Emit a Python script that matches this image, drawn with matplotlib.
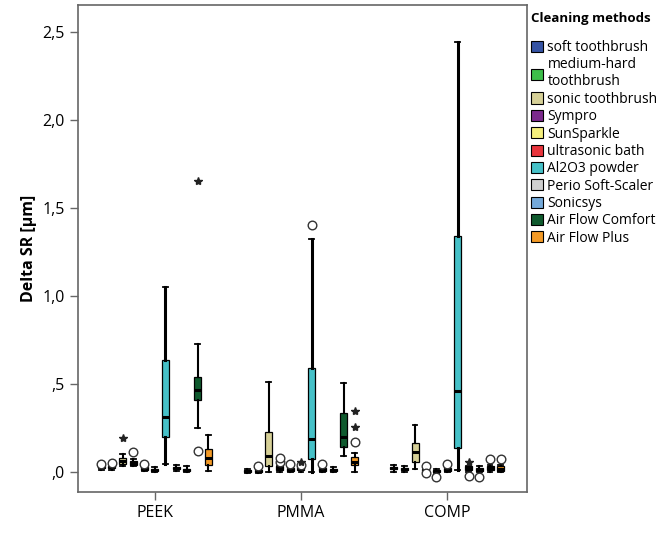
import matplotlib
matplotlib.use("Agg")
import matplotlib.pyplot as plt
from matplotlib.patches import Patch

plt.rcParams["font.family"] = ["Open Sans", "DejaVu Sans"]

materials = ["PEEK", "PMMA", "COMP"]
methods = ["soft toothbrush", "medium-hard\ntoothbrush", "sonic toothbrush", "Sympro",
           "SunSparkle", "ultrasonic bath", "Al2O3 powder", "Perio Soft-Scaler",
           "Sonicsys", "Air Flow Comfort", "Air Flow Plus"]
colors = ["#3553a4", "#3dbe4a", "#d6d097", "#7b2a8c", "#f5ef7c", "#e8343c",
          "#46c1c8", "#d0d0d0", "#74a9d9", "#0f5a2e", "#f39a26"]

# box statistics, one row per material, one value per cleaning method
whislo = [[0.010, 0.010, 0.030, 0.030, 0.005, 0.000, 0.045, 0.005, 0.000, 0.250, 0.005],
          [-0.005, -0.005, 0.000, 0.000, 0.000, 0.000, 0.000, 0.000, 0.000, 0.087, 0.000],
          [0.000, 0.000, 0.017, 0.000, -0.005, 0.000, 0.010, 0.000, 0.000, 0.000, 0.000]]
q1 = [[0.020, 0.020, 0.045, 0.040, 0.010, 0.005, 0.195, 0.015, 0.005, 0.410, 0.040],
      [0.000, 0.000, 0.030, 0.010, 0.005, 0.010, 0.070, 0.005, 0.005, 0.140, 0.040],
      [0.015, 0.010, 0.057, 0.005, 0.000, 0.005, 0.135, 0.010, 0.005, 0.010, 0.005]]
med = [[0.025, 0.030, 0.060, 0.050, 0.015, 0.010, 0.310, 0.020, 0.010, 0.466, 0.080],
       [0.003, 0.005, 0.087, 0.020, 0.010, 0.020, 0.187, 0.010, 0.010, 0.200, 0.055],
       [0.020, 0.015, 0.113, 0.010, 0.005, 0.010, 0.460, 0.020, 0.010, 0.020, 0.015]]
q3 = [[0.035, 0.035, 0.080, 0.060, 0.025, 0.015, 0.636, 0.025, 0.015, 0.540, 0.130],
      [0.008, 0.012, 0.225, 0.030, 0.020, 0.030, 0.590, 0.020, 0.015, 0.335, 0.085],
      [0.025, 0.020, 0.165, 0.015, 0.010, 0.020, 1.340, 0.030, 0.020, 0.035, 0.030]]
whishi = [[0.040, 0.050, 0.100, 0.075, 0.030, 0.025, 1.050, 0.040, 0.030, 0.727, 0.210],
          [0.015, 0.020, 0.510, 0.035, 0.025, 0.035, 1.320, 0.025, 0.025, 0.505, 0.105],
          [0.040, 0.035, 0.267, 0.020, 0.015, 0.025, 2.440, 0.035, 0.030, 0.040, 0.040]]

# outliers: (material index, method index, value)
circles = [(0, 0, 0.045), (0, 1, 0.048), (0, 3, 0.115), (0, 4, 0.045), (0, 9, 0.120),
           (1, 1, 0.030), (1, 3, 0.055), (1, 3, 0.078), (1, 4, 0.045), (1, 5, 0.040),
           (1, 6, 1.400), (1, 7, 0.045), (1, 10, 0.170),
           (2, 3, 0.035), (2, 3, -0.008), (2, 4, -0.030), (2, 5, 0.045), (2, 7, -0.025),
           (2, 8, -0.030), (2, 9, 0.075), (2, 10, 0.075)]
stars = [(0, 2, 0.190), (0, 9, 1.650), (1, 5, 0.058), (1, 10, 0.255), (1, 10, 0.345),
         (2, 7, 0.058)]

yticks = [0.0, 0.5, 1.0, 1.5, 2.0, 2.5]
ytick_labels = [",0", ",5", "1,0", "1,5", "2,0", "2,5"]

step = 0.0733
width = 0.048

fig = plt.figure(figsize=(6.7, 5.34), dpi=100)
ax = fig.add_axes([0.116, 0.079, 0.671, 0.912])

for g in range(len(materials)):
    for i in range(len(methods)):
        x = g + (i - 5) * step
        st = [{"med": med[g][i], "q1": q1[g][i], "q3": q3[g][i],
               "whislo": whislo[g][i], "whishi": whishi[g][i], "fliers": []}]
        lw = 2.2 if i == 6 else 1.5
        ax.bxp(st, positions=[x], widths=width, patch_artist=True, showfliers=False,
               boxprops=dict(facecolor=colors[i], edgecolor="black", linewidth=0.9),
               medianprops=dict(color="black", linewidth=2.2),
               whiskerprops=dict(color="black", linewidth=lw),
               capprops=dict(color="black", linewidth=1.3),
               capwidths=width * 0.7)

for g, i, v in circles:
    ax.plot(g + (i - 5) * step, v, "o", mfc="white", mec="#333333", mew=1.0, ms=6.2, zorder=4)
for g, i, v in stars:
    ax.plot(g + (i - 5) * step, v, "*", color="#222222", ms=6, zorder=4)

ax.set_xlim(-0.527, 2.548)
ax.set_ylim(-0.114, 2.653)
ax.set_xticks(range(len(materials)))
ax.set_xticklabels(materials, fontsize=11.5)
ax.set_yticks(yticks)
ax.set_yticklabels(ytick_labels, fontsize=11.5)
ax.set_ylabel("Delta SR [µm]", fontsize=11.5, fontweight="bold")
for s in ax.spines.values():
    s.set_color("#666666")
    s.set_linewidth(1.2)
ax.tick_params(direction="out", length=6, color="#666666", width=1.0)

handles = [Patch(facecolor=c, edgecolor="black", linewidth=0.8) for c in colors]
leg = ax.legend(handles, methods, title="Cleaning methods\n", loc="upper left",
                bbox_to_anchor=(1.0, 0.994), frameon=False, fontsize=10,
                title_fontproperties={"weight": "bold", "size": 9.5},
                handlelength=0.85, handleheight=0.85, handletextpad=0.3,
                labelspacing=0.17, borderaxespad=0.1, borderpad=0.2)
leg._legend_box.align = "left"
leg._legend_box.sep = 0

fig.savefig("out.png", dpi=100)
